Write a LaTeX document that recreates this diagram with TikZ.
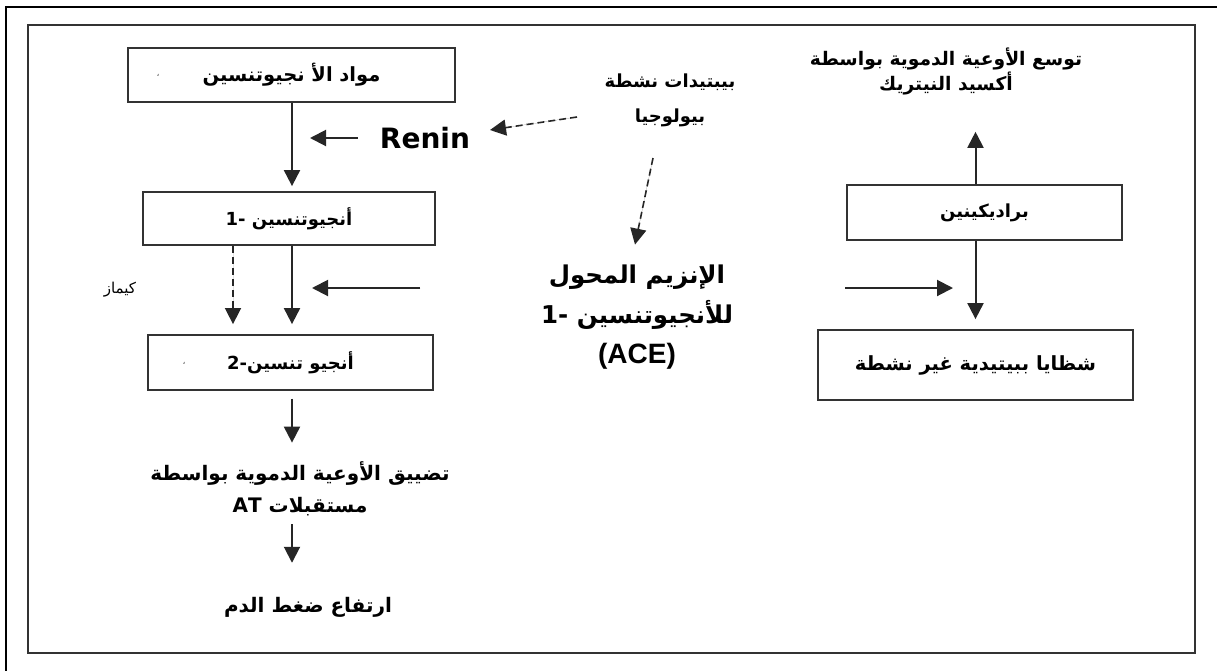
\documentclass[tikz,border=0pt]{standalone}
\usepackage{fontspec}
\setmainfont{Liberation Sans}
\newfontfamily\arfont[Script=Arabic]{DejaVu Sans}
\newfontfamily\djfont{DejaVu Sans}
\TeXXeTstate=1
\usetikzlibrary{arrows.meta}
\newcommand\AR[1]{{\arfont\bfseries\beginR #1\endR}}
\begin{document}
\begin{tikzpicture}[x=1pt,y=-1pt,
  bx/.style={draw=black!80, line width=1.8pt, minimum width=#1, inner sep=0pt, font=\fontsize{18}{21}\selectfont},
  arr/.style={-{Triangle[length=16pt,width=16pt]}, line width=2pt, draw=black!85, fill=black!85},
  darr/.style={arr, line width=1.6pt, dash pattern=on 7pt off 4pt},
  lbl/.style={align=center, inner sep=0pt},
  tick/.style={inner sep=0pt, font=\fontsize{9}{9}\arfont\selectfont, text=black!70}]
\useasboundingbox (0,0) rectangle (1217,670);
% frames
\draw[line width=2pt] (6,700) -- (6,7) -- (1240,7);
\draw[draw=black!80, line width=2.4pt] (28,25) rectangle (1195,653);
% boxes
\node[bx=327pt, minimum height=54pt, font=\fontsize{19.5}{22}\selectfont] (b1) at (291.5,75) {\AR{مواد الأ نجيوتنسين}};
\node[bx=292pt, minimum height=53pt] (b2) at (289,218.5) {\AR{أنجيوتنسين -1}};
\node[bx=285pt, minimum height=55pt] (b3) at (290.5,362.5) {\AR{أنجيو تنسين-2}};
\node[bx=275pt, minimum height=55pt] (b4) at (984.5,212.5) {\AR{براديكينين}};
\node[bx=315pt, minimum height=70pt, font=\fontsize{19.5}{22}\selectfont] (b5) at (975.5,365) {\AR{شظايا ببيتيدية غير نشطة}};
% stray marks inside boxes
\node[tick] (t1) at (158,75) {\beginR،\endR};
\node[tick] (t3) at (184,363) {\beginR،\endR};
% labels
\node[lbl, font=\fontsize{28}{30}\djfont\bfseries\selectfont] (ren) at (425,138) {Renin};
\node[lbl, font=\fontsize{18}{35}\selectfont] (bio) at (670,100) {\AR{بيبتيدات نشطة}\\\AR{بيولوجيا}};
\node[lbl, font=\fontsize{24.5}{40}\selectfont] (ace) at (637,317) {\AR{الإنزيم المحول}\\\AR{للأنجيوتنسين -1}\\{\fontsize{28}{37}\bfseries\selectfont (ACE)}};
\node[lbl, font=\fontsize{18.7}{25}\selectfont] (vaso) at (946,71) {\AR{توسع الأوعية الدموية بواسطة}\\\AR{أكسيد النيتريك}};
\node[lbl, font=\fontsize{20}{32}\selectfont] (vc) at (300,489) {\AR{تضييق الأوعية الدموية بواسطة}\\\AR{مستقبلات \beginL AT\endL}};
\node[lbl, font=\fontsize{20}{22}\selectfont] (hp) at (308,607) {\AR{ارتفاع ضغط الدم}};
\node[lbl, font=\fontsize{15}{16}\selectfont] (chy) at (120,290) {{\arfont\beginR كيماز\endR}};
% coordinates
\coordinate (rs) at (310,138);
\coordinate (d1) at (577,117);
\coordinate (d1e) at (490,130);
\coordinate (d2) at (653,158);
\coordinate (h1) at (420,288);
\coordinate (h1e) at (312,288);
\coordinate (h2) at (845,288);
\coordinate (h2e) at (953,288);
% connectors
\draw[arr] (b1.south -| 292,0) -- ([yshift=5pt]b2.north -| 292,0);
\draw[arr] ([xshift=-22pt]ren.west) -- (rs);
\draw[darr] (d1) -- (d1e);
\draw[darr] (d2) -- ([yshift=20pt]ace.north -| 635,0);
\draw[arr] (b2.south -| 292,0) -- ([yshift=10pt]b3.north -| 292,0);
\draw[darr] (b2.south -| 233,0) -- ([yshift=10pt]b3.north -| 233,0);
\draw[arr] (h1) -- (h1e);
\draw[arr] (h2) -- (h2e);
\draw[arr] (b4.north -| b5.north) -- ([yshift=-37pt]vaso.south -| b5.north);
\draw[arr] (b4.south -| b5.north) -- ([yshift=10pt]b5.north);
\draw[arr] ([yshift=-8pt]b3.south -| 292,0) -- ([yshift=19pt]vc.north -| 292,0);
\draw[arr] ([yshift=-8pt]vc.south -| 292,0) -- ([yshift=34pt]hp.north -| 292,0);
\end{tikzpicture}
\end{document}
